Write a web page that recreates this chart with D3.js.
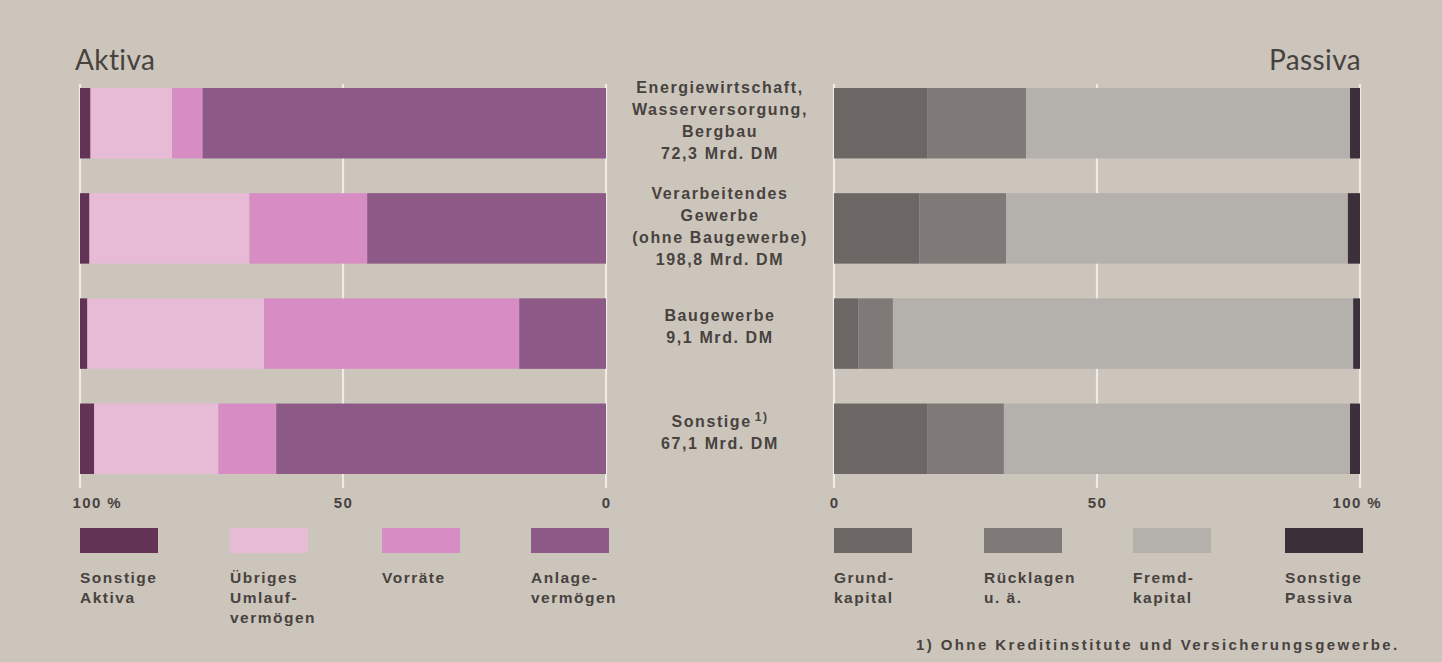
<!DOCTYPE html>
<html>
<head>
<meta charset="utf-8">
<script src="https://cdn.jsdelivr.net/npm/d3@7"></script>
<style>
  body { margin: 0; background: #cbc5bc; }
  svg { display: block; }
  text { font-family: "Liberation Sans", Arial, sans-serif; fill: #48423e; }
  .lbl { font-weight: bold; }
</style>
</head>
<body>
<div class="container"></div>
<script>
var width = 1442;
var height = 662;

// branches (center labels)
var categories = ['energie', 'verarbeitend', 'bau', 'sonstige'];
var categoryLabels = [
    ['Energiewirtschaft,', 'Wasserversorgung,', 'Bergbau', '72,3 Mrd. DM'],
    ['Verarbeitendes', 'Gewerbe', '(ohne Baugewerbe)', '198,8 Mrd. DM'],
    ['Baugewerbe', '9,1 Mrd. DM'],
    ['Sonstige', '67,1 Mrd. DM']
];

// Aktiva shares in %, drawn from 100 % (left) towards 0 (right)
var aktivaKeys = ['Sonstige Aktiva', 'Übriges Umlaufvermögen', 'Vorräte', 'Anlagevermögen'];
var aktivaLegend = [['Sonstige', 'Aktiva'], ['Übriges', 'Umlauf-', 'vermögen'], ['Vorräte'], ['Anlage-', 'vermögen']];
var sonstigeAktiva = [2.0, 1.8, 1.4, 2.7];
var uebrigesUmlauf = [15.5, 30.4, 33.6, 23.6];
var vorraete = [5.8, 22.4, 48.5, 11.0];
var anlage = [76.7, 45.4, 16.5, 62.7];

// Passiva shares in %, drawn from 0 (left) towards 100 % (right)
var passivaKeys = ['Grundkapital', 'Rücklagen u. ä.', 'Fremdkapital', 'Sonstige Passiva'];
var passivaLegend = [['Grund-', 'kapital'], ['Rücklagen', 'u. ä.'], ['Fremd-', 'kapital'], ['Sonstige', 'Passiva']];
var grundkapital = [17.7, 16.2, 4.6, 17.7];
var ruecklagen = [18.8, 16.5, 6.6, 14.6];
var fremdkapital = [61.6, 65.0, 87.5, 65.8];
var sonstigePassiva = [1.9, 2.3, 1.3, 1.9];

var axisTicks = [0, 50, 100];

var aktivaColors = ['#633356', '#e7bad6', '#d78cc4', '#8d5986'];
var passivaColors = ['#6c6665', '#7f7978', '#b4b0ac', '#3c313b'];

var xLeft = d3.scaleLinear().domain([100, 0]).range([80, 606]);
var xRight = d3.scaleLinear().domain([0, 100]).range([834, 1360]);

var y = d3.scaleBand()
    .domain(categories)
    .range([88, 474])
    .paddingInner(0.33)
    .paddingOuter(0);

var translate = function(x, y) {
    return 'translate(' + x + ',' + y + ')';
};

var buildRows = function(keys, arrays) {
    return categories.map(function(c, i) {
        var row = { category: c };
        keys.forEach(function(k, j) { row[k] = arrays[j][i]; });
        return row;
    });
};

var svg = d3.select('.container').append('svg')
    .attr('width', width)
    .attr('height', height);

// gridlines
var drawGrid = function(x) {
    svg.append('g').selectAll('line')
        .data(axisTicks)
        .enter().append('line')
        .attr('x1', function(d) { return x(d); })
        .attr('x2', function(d) { return x(d); })
        .attr('y1', 84)
        .attr('y2', 488)
        .attr('stroke', '#efebe5')
        .attr('stroke-width', 2.2);
};
drawGrid(xLeft);
drawGrid(xRight);

var drawPanel = function(keys, arrays, colors, x, reversed) {
    var stacked = d3.stack().keys(keys)(buildRows(keys, arrays));
    var layers = svg.append('g').selectAll('g')
        .data(stacked)
        .enter().append('g')
        .attr('fill', function(d, i) { return colors[i]; });

    // aktiva stacks from 100 downwards
    layers.selectAll('rect')
        .data(function(d) { return d; })
        .enter().append('rect')
        .attr('x', function(d) {
            return reversed ? x(100 - d[0]) : x(d[0]);
        })
        .attr('width', function(d) {
            return reversed ? x(100 - d[1]) - x(100 - d[0]) : x(d[1]) - x(d[0]);
        })
        .attr('y', function(d) { return y(d.data.category); })
        .attr('height', y.bandwidth());
};
drawPanel(aktivaKeys, [sonstigeAktiva, uebrigesUmlauf, vorraete, anlage], aktivaColors, xLeft, true);
drawPanel(passivaKeys, [grundkapital, ruecklagen, fremdkapital, sonstigePassiva], passivaColors, xRight, false);

// axes
var tickFmt = function(d) { return d === 100 ? '100 %' : d; };

var leftAxis = svg.append('g')
    .attr('transform', translate(0, 493))
    .call(d3.axisBottom(xLeft).tickValues(axisTicks).tickFormat(tickFmt).tickSize(0).tickPadding(4));
var rightAxis = svg.append('g')
    .attr('transform', translate(0, 493))
    .call(d3.axisBottom(xRight).tickValues(axisTicks).tickFormat(tickFmt).tickSize(0).tickPadding(4));

[leftAxis, rightAxis].forEach(function(a) {
    a.select('.domain').remove();
    a.selectAll('text')
        .classed('lbl', true)
        .attr('font-family', '"Liberation Sans", Arial, sans-serif')
        .attr('font-size', 15)
        .attr('fill', '#48423e')
        .style('letter-spacing', '1.4px');
});
leftAxis.selectAll('text').filter(function(d) { return d === 100; })
    .attr('text-anchor', 'start').attr('dx', -8);
rightAxis.selectAll('text').filter(function(d) { return d === 100; })
    .attr('text-anchor', 'start').attr('dx', -28);

// titles
svg.append('text')
    .attr('x', 75).attr('y', 70)
    .style('font-family', 'Lato, sans-serif')
    .style('font-weight', 400)
    .style('font-size', '28px')
    .style('letter-spacing', '0.4px')
    .text('Aktiva');
svg.append('text')
    .attr('x', 1361).attr('y', 70)
    .attr('text-anchor', 'end')
    .style('font-family', 'Lato, sans-serif')
    .style('font-weight', 400)
    .style('font-size', '28px')
    .style('letter-spacing', '0.4px')
    .text('Passiva');

// center labels
var labelTops = [93, 199, 321, 427];
var labelGroups = svg.append('g').selectAll('text')
    .data(categoryLabels)
    .enter().append('text')
    .classed('lbl', true)
    .attr('text-anchor', 'middle')
    .attr('font-size', 16)
    .style('letter-spacing', '1.6px');

labelGroups.each(function(lines, i) {
    var t = d3.select(this);
    lines.forEach(function(line, j) {
        t.append('tspan')
            .attr('x', 720)
            .attr('y', labelTops[i] + j * 22)
            .text(line);
        if (i === 3 && j === 0) {
            t.append('tspan').attr('dx', 3).attr('dy', -6).attr('font-size', 12).text('1)');
        }
    });
});

// legends
var legendLeftX = [80, 230, 382, 531];
var legendRightX = [834, 984, 1133, 1285];

var drawLegend = function(xs, colors, labels) {
    var g = svg.append('g').selectAll('g')
        .data(labels)
        .enter().append('g')
        .attr('transform', function(d, i) { return translate(xs[i], 528); });
    g.append('rect')
        .attr('width', 78)
        .attr('height', 25)
        .attr('fill', function(d, i) { return colors[i]; });
    g.append('text')
        .classed('lbl', true)
        .attr('font-size', 15.5)
        .style('letter-spacing', '1.5px')
        .selectAll('tspan')
        .data(function(d) { return d; })
        .enter().append('tspan')
        .attr('x', 0)
        .attr('y', function(d, j) { return 55 + j * 20; })
        .text(function(d) { return d; });
};
drawLegend(legendLeftX, aktivaColors, aktivaLegend);
drawLegend(legendRightX, passivaColors, passivaLegend);

svg.append('text')
    .classed('lbl', true)
    .attr('x', 916).attr('y', 650)
    .attr('font-size', 15)
    .style('letter-spacing', '2.4px')
    .text('1) Ohne Kreditinstitute und Versicherungsgewerbe.');
</script>
</body>
</html>
